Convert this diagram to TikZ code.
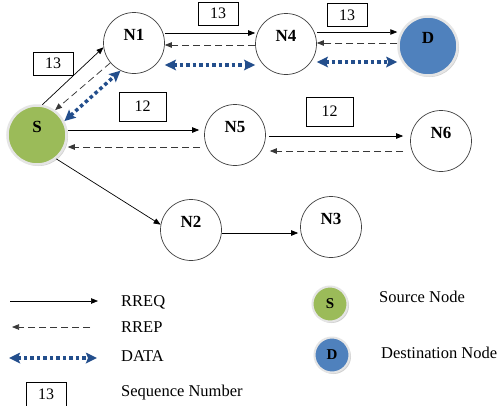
\documentclass[tikz,border=0pt]{standalone}
\usepackage{fontspec}
\setmainfont{Liberation Serif}
\usetikzlibrary{arrows.meta,shadows,calc}
\definecolor{sgreen}{RGB}{155,187,89}
\definecolor{dblue}{RGB}{79,129,189}
\definecolor{datablue}{RGB}{35,78,140}
\begin{document}
\begin{tikzpicture}[x=1pt,y=-1pt,
  nd/.style={circle,draw=black!75,line width=0.7pt,minimum size=61pt,inner sep=0pt,fill=white},
  ndlabel/.style={font=\fontsize{17}{17}\selectfont\bfseries,yshift=8pt},
  rreq/.style={-{Triangle[length=7pt,width=5.5pt]},line width=0.7pt,black},
  rrep/.style={-{Triangle[length=7pt,width=5.5pt]},line width=0.75pt,black!78,dash pattern=on 7pt off 4pt},
  data/.style={{Stealth[length=11pt,width=10.5pt,inset=2pt]}-{Stealth[length=11pt,width=10.5pt,inset=2pt]},line width=3.5pt,datablue,dash pattern=on 3.5pt off 3pt},
  seq/.style={draw,line width=0.7pt,minimum width=40pt,minimum height=23pt,inner sep=0pt,font=\fontsize{16}{16}\selectfont},
  special/.style={circle,minimum size=59pt,inner sep=0pt,draw=black!10,line width=2.5pt,
    drop shadow={shadow xshift=1.5pt,shadow yshift=-1.5pt,opacity=0.35,fill=black!50}},
  legtext/.style={anchor=west,font=\fontsize{16.5}{16.5}\selectfont,inner sep=0pt},
]
\clip (0,0) rectangle (498,405);
\fill[white] (0,0) rectangle (498,405);

% nodes
\node[special,fill=sgreen,label={[ndlabel]center:S}] (S) at (37,135) {};
\node[special,fill=dblue,label={[ndlabel]center:D}] (D) at (428,46) {};
\node[nd,label={[ndlabel]center:N1}] (N1) at (134,43) {};
\node[nd,label={[ndlabel]center:N4}] (N4) at (286,44) {};
\node[nd,label={[ndlabel]center:N5}] (N5) at (235,135) {};
\node[nd,label={[ndlabel]center:N6}] (N6) at (441,141) {};
\node[nd,label={[ndlabel]center:N2}] (N2) at (191,230) {};
\node[nd,label={[ndlabel]center:N3}] (N3) at (331,227) {};

% sequence number boxes
\node[seq] (b1) at (53,63.5) {13};
\node[seq] (b2) at (218,13.5) {13};
\node[seq] (b3) at (347,15) {13};
\node[seq,minimum width=47pt,minimum height=29pt] (b4) at (142.5,106.5) {12};
\node[seq,minimum width=47pt,minimum height=29pt] (b5) at (329.5,111.5) {12};

% S - N1
\draw[rreq] (S.80) -- (N1.188);
\draw[rrep] (N1.220) -- (S.54);
\draw[data] (S.27) -- (N1.244);

% N1 - N4
\coordinate (p1) at ([yshift=10pt]N1.east);
\coordinate (q1) at ([yshift=-1pt]N4.west);
\coordinate (d1) at ([yshift=-22pt]N1.east);
\draw[rreq] (p1) -- (p1 -| N4.west);
\draw[rrep] (q1) -- (q1 -| N1.east);
\draw[data] (d1) -- (d1 -| N4.west);

% N4 - D
\coordinate (p2) at ([yshift=12pt]N4.east);
\coordinate (q2) at ([yshift=3pt]D.west);
\coordinate (d2) at ([yshift=-18pt]N4.east);
\draw[rreq] (p2) -- (p2 -| D.west);
\draw[rrep] (q2) -- (q2 -| N4.east);
\draw[data] (d2) -- (d2 -| D.west);

% S - N5
\coordinate (p3) at ([yshift=5pt]S.east);
\coordinate (q3) at ([yshift=-12pt]N5.west);
\draw[rreq,shorten >=5pt] (p3) -- (p3 -| N5.west);
\draw[rrep,shorten <=4pt] (q3) -- (q3 -| S.east);

% N5 - N6
\coordinate (p4) at ([yshift=-1pt]N5.east);
\coordinate (q4) at ([yshift=-10pt]N6.west);
\draw[rreq,shorten <=3pt,shorten >=7pt] (p4) -- (p4 -| N6.west);
\draw[rrep,shorten <=7pt,shorten >=4pt] (q4) -- (q4 -| N5.east);

% S - N2 - N3
\draw[rreq] (S.-51) -- (N2.170);
\coordinate (p5) at ([yshift=-3pt]N2.east);
\draw[rreq,shorten >=2pt] (p5) -- (p5 -| N3.west);

% legend
\coordinate (l1a) at (10,301);
\coordinate (l1b) at (98,301);
\draw[rreq] (l1a) -- (l1b);
\node[legtext] (t1) at (121,302) {RREQ};
\coordinate (l2a) at (90,327);
\coordinate (l2b) at (12,327);
\draw[rrep] (l2a) -- (l2b);
\node[legtext] (t2) at (121,327) {RREP};
\coordinate (l3a) at (9,358);
\coordinate (l3b) at (97,358);
\draw[data] (l3a) -- (l3b);
\node[legtext] (t3) at (121,356) {DATA};
\node[seq,minimum height=26pt,text depth=0pt,yshift=0pt] (b6) at (46,395) {\raisebox{1pt}{13}};
\node[legtext] (t4) at (121,393) {Sequence Number};

\node[special,fill=sgreen,minimum size=35pt,line width=2pt,font=\fontsize{15}{15}\selectfont\bfseries] (LS) at (330,304) {S};
\node[legtext] (t5) at (379,297) {Source Node};
\node[special,fill=dblue,minimum size=35pt,line width=2pt,font=\fontsize{15}{15}\selectfont\bfseries] (LD) at (332,355) {D};
\node[legtext] (t6) at (381,353) {Destination Node};
\end{tikzpicture}
\end{document}
